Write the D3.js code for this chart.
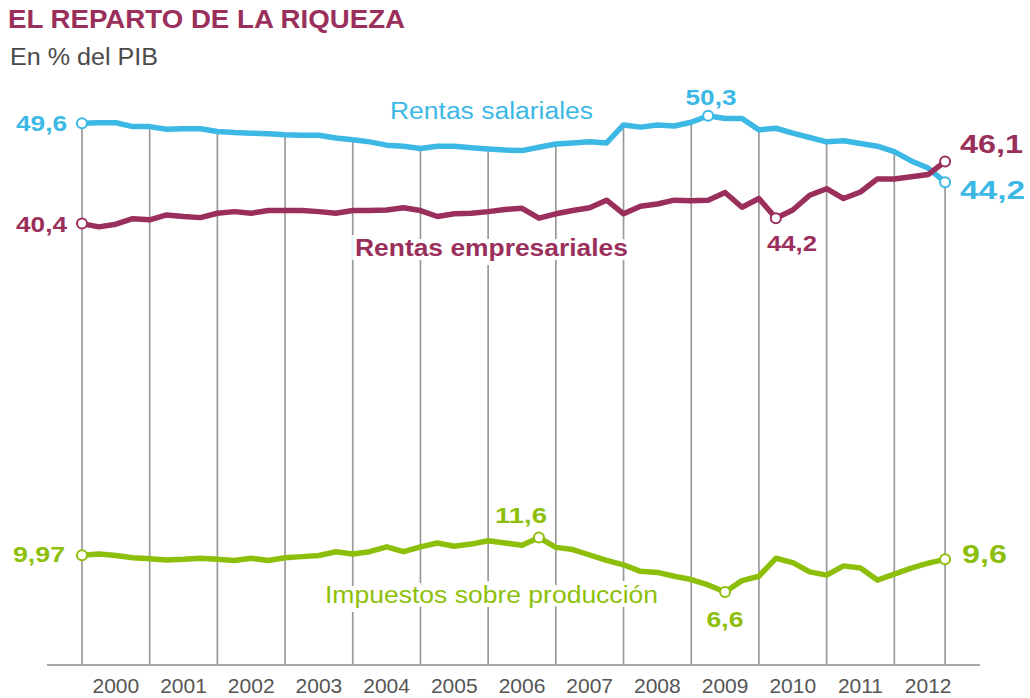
<!doctype html>
<html>
  <head>
    <meta charset="utf-8">
    <script src="https://cdnjs.cloudflare.com/ajax/libs/d3/7.8.5/d3.min.js"></script>
    <style>
      body { margin: 0; background: #fff; }
      text { font-family: "Liberation Sans", Arial, sans-serif; }
    </style>
  </head>
  <body>
    <svg></svg>
    <script>
      // años del eje (datos trimestrales 2000T1 - 2012T4)
      var years = [2000, 2001, 2002, 2003, 2004, 2005, 2006, 2007, 2008, 2009, 2010, 2011, 2012];
      var quarters = [];
      years.forEach(y => [1, 2, 3, 4].forEach(q => quarters.push(y + "T" + q)));

      // % del PIB
      var salariales = [49.6, 49.65, 49.65, 49.3, 49.3, 49.05, 49.1, 49.1, 48.85, 48.75, 48.7, 48.65,
                        48.55, 48.5, 48.5, 48.25, 48.1, 47.9, 47.6, 47.5, 47.3, 47.5, 47.5, 47.35,
                        47.25, 47.15, 47.1, 47.4, 47.7, 47.8, 47.9, 47.8, 49.45, 49.25, 49.45, 49.35,
                        49.7, 50.3, 50.05, 50.05, 49.0, 49.15, 48.7, 48.3, 47.9, 48.0, 47.75, 47.5,
                        47.0, 46.15, 45.5, 44.2];
      var empresariales = [40.4, 40.1, 40.35, 40.85, 40.75, 41.2, 41.05, 40.95, 41.35, 41.5, 41.35, 41.6,
                           41.6, 41.6, 41.5, 41.35, 41.6, 41.6, 41.65, 41.85, 41.6, 41.05, 41.3, 41.35,
                           41.5, 41.7, 41.8, 40.9, 41.3, 41.6, 41.85, 42.55, 41.3, 42.0, 42.2, 42.55,
                           42.5, 42.55, 43.25, 41.9, 42.7, 40.9, 41.65, 43.0, 43.6, 42.7, 43.3, 44.5,
                           44.5, 44.7, 44.9, 46.1];
      var impuestos = [9.97, 10.1, 9.95, 9.75, 9.65, 9.55, 9.6, 9.7, 9.6, 9.5, 9.7, 9.5,
                       9.75, 9.85, 9.95, 10.3, 10.1, 10.3, 10.75, 10.3, 10.75, 11.1, 10.8, 11.0,
                       11.3, 11.1, 10.9, 11.6, 10.7, 10.5, 10.0, 9.5, 9.1, 8.5, 8.4, 8.05,
                       7.75, 7.25, 6.6, 7.65, 8.05, 9.7, 9.3, 8.45, 8.15, 9.0, 8.8, 7.7,
                       8.25, 8.8, 9.25, 9.6];

      var seriesNames = ["Rentas salariales", "Rentas empresariales", "Impuestos sobre producción"];
      // puntos destacados (índice del trimestre) y su rótulo
      var salarialesMarks = [[0, "49,6"], [37, "50,3"], [51, "44,2"]];
      var empresarialesMarks = [[0, "40,4"], [41, "44,2"], [51, "46,1"]];
      var impuestosMarks = [[0, "9,97"], [27, "11,6"], [38, "6,6"], [51, "9,6"]];

      var width = 1030, height = 698;
      var blue = "#3cb8e5", maroon = "#9b2f5c", green = "#8dbf0a";

      var svg = d3.select("svg").attr("width", width).attr("height", height);

      var x = d3.scaleLinear().domain([2000, 2013]).range([82, 962]);
      var y = d3.scaleLinear().domain([0, 50.3]).range([664, 115.7]);
      var t = i => 2000 + i / 4;

      // título
      svg.append("text").attr("x", 8).attr("y", 28)
        .attr("font-size", 25).attr("font-weight", "bold").attr("fill", maroon)
        .attr("textLength", 397).attr("lengthAdjust", "spacingAndGlyphs")
        .text("EL REPARTO DE LA RIQUEZA");
      svg.append("text").attr("x", 10).attr("y", 65)
        .attr("font-size", 23).attr("fill", "#4a4a4a")
        .attr("textLength", 148).attr("lengthAdjust", "spacingAndGlyphs")
        .text("En % del PIB");

      // líneas verticales: desde la curva de salarios hasta el eje
      var blueAt = tt => {
        var f = (tt - 2000) * 4, i = Math.min(Math.floor(f), salariales.length - 2), r = f - i;
        return salariales[i] * (1 - r) + salariales[i + 1] * r;
      };
      var grid = [2000].concat(years.slice(1)).concat([t(salariales.length - 1)]);
      svg.append("g").selectAll("line").data(grid).enter().append("line")
        .attr("x1", d => x(d)).attr("x2", d => x(d))
        .attr("y1", d => y(blueAt(d))).attr("y2", y(0))
        .attr("stroke", "#9a9a9a").attr("stroke-width", 1.7);

      // eje
      svg.append("line").attr("x1", 47).attr("x2", 980).attr("y1", y(0) + 1).attr("y2", y(0) + 1)
        .attr("stroke", "#8a8a8a").attr("stroke-width", 1.5);
      svg.append("g").selectAll("text").data(years).enter().append("text")
        .attr("x", d => x(d + 0.5)).attr("y", 693)
        .attr("text-anchor", "middle").attr("font-size", 21).attr("fill", "#555")
        .text(d => d);

      // rótulos de series (con halo blanco sobre la rejilla)
      var seriesLabels = [
        {text: seriesNames[0], x: 390, y: 119, w: 203, bold: false, color: blue},
        {text: seriesNames[1], x: 355, y: 256, w: 273, bold: true, color: maroon},
        {text: seriesNames[2], x: 325, y: 603, w: 333, bold: false, color: green}
      ];
      svg.append("g").selectAll("text").data(seriesLabels).enter().append("text")
        .attr("x", d => d.x).attr("y", d => d.y)
        .attr("font-size", 23).attr("font-weight", d => d.bold ? "bold" : "normal")
        .attr("fill", d => d.color)
        .attr("stroke", "#fff").attr("stroke-width", 8).attr("paint-order", "stroke")
        .attr("textLength", d => d.w).attr("lengthAdjust", "spacingAndGlyphs")
        .text(d => d.text);

      var line = d3.line().x((d, i) => x(t(i))).y(d => y(d));
      var series = [
        {values: salariales, color: blue, marks: salarialesMarks},
        {values: empresariales, color: maroon, marks: empresarialesMarks},
        {values: impuestos, color: green, marks: impuestosMarks}
      ];

      series.forEach(s => {
        svg.append("path").datum(s.values).attr("d", line)
          .attr("fill", "none").attr("stroke", s.color).attr("stroke-width", 5.5)
          .attr("stroke-linejoin", "round").attr("stroke-linecap", "round");
      });
      series.forEach(s => {
        svg.append("g").selectAll("circle").data(s.marks).enter().append("circle")
          .attr("cx", d => x(t(d[0]))).attr("cy", d => y(s.values[d[0]]))
          .attr("r", 5).attr("fill", "#fff").attr("stroke", s.color).attr("stroke-width", 2);
      });

      // posición de los rótulos de valores
      var valueLabels = [
        {s: 0, m: 0, x: 67, y: 131, w: 51, size: 22, anchor: "end"},
        {s: 0, m: 1, x: 711, y: 105, w: 51, size: 22, anchor: "middle"},
        {s: 0, m: 2, x: 960, y: 199, w: 65, size: 26, anchor: "start"},
        {s: 1, m: 0, x: 67, y: 232, w: 51, size: 22, anchor: "end"},
        {s: 1, m: 1, x: 792, y: 251, w: 50, size: 22, anchor: "middle"},
        {s: 1, m: 2, x: 960, y: 153, w: 63, size: 26, anchor: "start"},
        {s: 2, m: 0, x: 65, y: 562, w: 52, size: 22, anchor: "end"},
        {s: 2, m: 1, x: 521, y: 523, w: 52, size: 22, anchor: "middle"},
        {s: 2, m: 2, x: 725, y: 627, w: 37, size: 22, anchor: "middle"},
        {s: 2, m: 3, x: 962, y: 563, w: 45, size: 26, anchor: "start"}
      ];
      svg.append("g").selectAll("text").data(valueLabels).enter().append("text")
        .attr("x", d => d.x).attr("y", d => d.y)
        .attr("text-anchor", d => d.anchor)
        .attr("font-size", d => d.size).attr("font-weight", "bold")
        .attr("fill", d => series[d.s].color)
        .attr("stroke", "#fff").attr("stroke-width", 4).attr("paint-order", "stroke")
        .attr("textLength", d => d.w).attr("lengthAdjust", "spacingAndGlyphs")
        .text(d => series[d.s].marks[d.m][1]);
    </script>
  </body>
</html>
